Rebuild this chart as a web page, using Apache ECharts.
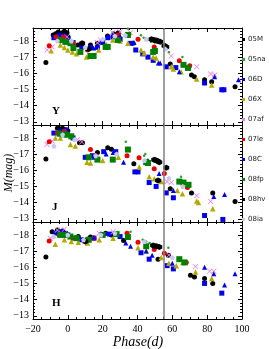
<!DOCTYPE html>
<html><head><meta charset="utf-8">
<script src="https://cdn.jsdelivr.net/npm/echarts@6/dist/echarts.min.js"></script>
<style>html,body{margin:0;padding:0;background:#fff}#c{width:269px;height:349px}</style>
</head><body><div id="c"></div>
<script>
// ---- data: [phase (d), absolute magnitude] ----
const names = ['05M','05na','06D','06X','07af','07le','08C','08fp','08hv','08ia'];
const xTicks = [-20, 0, 20, 40, 60, 80, 100];
const yTicks = [-18, -17, -16, -15, -14, -13];
const phaseLine = 55;

const Y_05M = [[-12.6,-16.66],[-8.4,-18.37],[-7,-18.45],[-5.5,-18.55],[-3.2,-18.5],[-2,-18.6],[-0.5,-18.5],[0.2,-18.25],[5.8,-17.75],[13,-17.75],[17,-17.85],[22.8,-18.3],[26.4,-18.45],[29,-18.5],[37.4,-17.86],[58.8,-16.58],[71,-15.9],[72.7,-15.78],[78.5,-15.6],[82.6,-15.47],[96,-15.16]];
const Y_05na = [[34.5,-18.75],[42,-18.35],[43.5,-18.2],[45,-18.15],[47.8,-17.95],[50,-17.9],[58,-17.3],[65.8,-17.0]];
const Y_06D = [[-8,-18.2],[-5,-18.35],[-2,-18.3],[0,-18.1],[3,-17.9],[8,-17.6],[13,-17.6],[17,-17.6],[20,-17.9],[23,-18.2],[26,-18.25],[30,-18.1],[36,-17.85],[39,-17.44],[43,-17.2],[46,-17.0],[49,-16.8],[56.5,-16.4],[62,-16.35],[78.5,-15.4],[88.4,-14.98],[89.6,-14.98]];
const Y_06X = [[-9.6,-17.4],[-4.3,-17.75],[-2,-17.6],[0,-17.44],[2.6,-17.32],[5,-17.2],[10.7,-17.0],[12,-17.05],[17.7,-17.44],[22,-17.8],[25.8,-18.06],[30,-18.0],[34.5,-17.86],[42,-17.44],[43.8,-17.26],[49,-17.0],[50.7,-16.95],[59.4,-16.4],[60.6,-16.27],[65,-16.1],[74,-15.65],[82.6,-15.28]];
const Y_07af = [[-11.9,-17.44],[-9,-17.63],[-4,-18.1],[-0.5,-18.25],[17,-17.88],[18.8,-18.06],[25.8,-18.5],[30,-18.55],[36,-18.5],[59.4,-17.07],[74,-16.4],[82,-15.96],[84.3,-15.9]];
const Y_07le = [[-10.7,-17.7],[-6.7,-18.25],[-2.6,-18.25],[3,-17.86],[11.3,-17.44],[28.7,-18.37],[35,-18.4],[40.3,-18.1],[49.6,-17.63],[64,-16.77],[70,-16.46]];
const Y_08C = [[14.8,-17.57],[20,-18.0],[25.8,-18.37],[30,-18.3],[38,-17.9],[52,-16.64],[53,-16.64],[64,-16.1],[84.3,-15.78],[98,-15.6]];
const Y_08fp = [[-4.3,-18.06],[-1.4,-17.94],[1.5,-17.86],[3.2,-17.56],[7.2,-17.32],[13,-17.07],[14.8,-17.07],[21.7,-17.63],[22.9,-17.63],[28.7,-18.06],[34.5,-18.37],[49,-17.32],[50,-17.38],[66.4,-16.52],[69,-16.33]];
const Y_08hv = [[8.2,-17.86],[11.9,-17.5],[48,-18.1],[49,-18.08],[50,-18.05],[51,-18.02],[52,-17.98],[53,-17.95],[55.5,-17.7],[56.5,-17.63]];
const Y_08ia = [[-6,-18.0],[2,-18.0],[10,-17.6],[20,-18.1],[27,-18.3],[33,-18.35],[45,-18.1],[56,-17.5]];

const J_05M = [[-12.6,-16.7],[-6,-18.6],[-4.5,-18.55],[-3,-18.6],[-1.5,-18.5],[0,-18.45],[6.7,-17.7],[8.4,-17.7],[17,-17.1],[22.9,-17.4],[25,-17.3],[37.9,-16.4],[58.8,-14.86],[71,-14.6],[83.2,-14.6],[96,-14.07]];
const J_05na = [[33.3,-17.77],[43.8,-16.9],[44.5,-17.0],[65,-15.6]];
const J_06D = [[-8,-18.3],[-4,-18.4],[-1,-18.5],[3,-18.0],[10,-16.8],[14,-16.9],[20.6,-17.15],[27.5,-17.15],[38.5,-15.9],[40.3,-15.9],[46.7,-15.24],[50.7,-15.0],[56.5,-14.6],[60.6,-14.3],[78.5,-13.2],[89,-12.96]];
const J_06X = [[-7.2,-18.0],[-4.3,-18.0],[1.5,-17.6],[4.3,-17.5],[11,-16.5],[13,-16.45],[20,-16.6],[29,-16.8],[41,-16.2],[46.7,-15.6],[49.6,-15.47],[53.6,-15.3],[62.9,-14.75],[65.8,-14.55],[74,-14.1],[75,-14.0],[83.2,-13.62]];
const J_07af = [[-12,-17.6],[-9,-17.8],[5.5,-17.9],[8,-17.75],[45,-16.5],[57,-15.3],[59.4,-15.24],[74,-14.43],[82,-14.07]];
const J_07le = [[-10.7,-17.77],[-6,-18.3],[-2,-18.4],[13,-17.28],[16,-16.9],[34,-16.9],[40.9,-16.78],[49.6,-16.1],[55.4,-15.8],[68.7,-14.94]];
const J_08C = [[15,-16.8],[22,-17.0],[26,-17.1],[32,-16.5],[46,-16.6],[52.4,-15.8],[60.6,-14.75],[83.8,-14.37],[90,-14.5]];
const J_08fp = [[-4.7,-18.26],[-2.5,-18.22],[-0.5,-18.2],[2,-18.1],[12,-16.8],[17,-16.66],[25.8,-16.66],[34.5,-17.28],[45,-16.5],[46,-16.45],[64,-15.3],[66.4,-15.24],[69.3,-15.1]];
const J_08hv = [[49.6,-16.65],[50.5,-16.62],[51.5,-16.58],[52.5,-16.5],[56.5,-16.16],[51.8,-15.36]];
const J_08ia = [[-8,-17.5],[-3,-18.2],[4,-17.9],[16,-16.9],[28,-17.0],[44,-16.6],[58,-15.5],[66,-15.0]];

const H_05M = [[-12.6,-16.64],[-9,-18.2],[-6,-18.3],[-3,-18.25],[-1,-18.1],[6,-17.9],[11.3,-17.74],[13,-17.87],[21.7,-18.1],[25,-18.0],[32,-17.65],[51.8,-16.5],[57.7,-16.75],[70.4,-15.5],[72.7,-15.4],[78.5,-15.3],[83.2,-15.0]];
const H_05na = [[36,-18.2],[43,-17.7],[45,-17.6],[47,-17.5],[57.7,-17.2]];
const H_06D = [[-7,-18.1],[-3,-18.2],[0,-18.0],[8,-17.7],[15,-17.8],[24,-18.05],[30,-17.9],[42,-16.9],[46.7,-16.5],[57,-16.1],[60.6,-15.9],[78.5,-15.0],[88.4,-14.4]];
const H_06X = [[-7.2,-17.43],[-2,-17.7],[2,-17.6],[6,-17.55],[11.3,-17.5],[18,-17.7],[26,-17.8],[40.3,-17.2],[45,-17.0],[53.6,-16.6],[58,-16.25],[62.3,-16.1],[66,-16.3],[73.3,-15.7],[82.6,-15.3]];
const H_07af = [[-10,-17.8],[-6,-18.3],[-2,-18.35],[18,-18.1],[26,-18.2],[58,-16.75],[73.3,-16.05],[81.4,-15.75],[83.8,-15.75]];
const H_07le = [[-10.7,-17.63],[-5,-18.0],[3,-17.8],[15,-17.8],[34,-18.1],[40.3,-17.55],[49.6,-17.1],[55.4,-16.87],[68,-16.3]];
const H_08C = [[15,-17.85],[22,-18.1],[33.3,-17.5],[36,-17.3],[45,-17.0],[48.4,-16.75],[60,-16.25],[78.5,-16.0],[83.8,-15.6],[90,-14.9],[96,-15.6]];
const H_08fp = [[-4.3,-18.0],[-2,-18.0],[1.5,-17.9],[5,-17.8],[12,-17.7],[20,-18.0],[28,-18.05],[34.5,-17.87],[45,-17.3],[64,-16.5],[67,-16.3]];
const H_08hv = [[10,-17.6],[49,-17.35],[50,-17.3],[51,-17.3],[52.5,-17.25]];
const H_08ia = [[-8,-17.9],[0,-18.0],[9,-17.7],[19,-18.0],[27,-18.1],[44,-17.6],[60,-16.6]];

const bandNames = ['Y','J','H'];
const bandData = [
  [Y_05M,Y_05na,Y_06D,Y_06X,Y_07af,Y_07le,Y_08C,Y_08fp,Y_08hv,Y_08ia],
  [J_05M,J_05na,J_06D,J_06X,J_07af,J_07le,J_08C,J_08fp,J_08hv,J_08ia],
  [H_05M,H_05na,H_06D,H_06X,H_07af,H_07le,H_08C,H_08fp,H_08hv,H_08ia]
];

// ---- styles ----
const X_PATH = 'path://M0,1L1,0L5,4L9,0L10,1L6,5L10,9L9,10L5,6L1,10L0,9L4,5Z';
const HEX_PATH = 'path://M5,0L9.33,2.5L9.33,7.5L5,10L0.67,7.5L0.67,2.5Z';
const PENT_PATH = 'path://M5,0L10,3.8L8.1,10L1.9,10L0,3.8Z';
const styles = [
  {color:'#000000', symbol:'circle', size:5},
  {color:'#2ca02c', symbol:'circle', size:2.5},
  {color:'#0000ee', symbol:'rect', size:5},
  {color:'#b3aa00', symbol:'triangle', size:5.5},
  {color:'#ee82ee', symbol:X_PATH, size:5.5},
  {color:'#ee0000', symbol:'circle', size:5},
  {color:'#0000ee', symbol:'triangle', size:5},
  {color:'#008000', symbol:'rect', size:6},
  {color:'#000000', symbol:HEX_PATH, size:6},
  {color:'#c8c8f0', symbol:PENT_PATH, size:5}
];

const L = 33, R = 242, H = 97, tops = [28, 125, 222];
const serif = 'Liberation Serif';
const fmtY = v => Math.abs(v - Math.round(v)) < 1e-6 && yTicks.indexOf(Math.round(v)) >= 0 ? '\u2212' + Math.abs(Math.round(v)) : '';
const fmtX = v => xTicks.indexOf(v) >= 0 ? (v < 0 ? '\u2212' + Math.abs(v) : String(v)) : '';

const grid = [], xAxis = [], yAxis = [], series = [];
tops.forEach((t, i) => {
  grid.push({left: L, width: R - L, top: t, height: H, show: false});
  const axBase = {gridIndex: i, type: 'value', min: -20, max: 100, interval: 20,
    axisLine: {show: true, onZero: false, lineStyle: {color: '#000', width: 1}},
    axisTick: {show: true, inside: true, length: 4, lineStyle: {color: '#000'}},
    minorTick: {show: true, splitNumber: 4, length: 2, lineStyle: {color: '#000'}},
    splitLine: {show: false}};
  xAxis.push(Object.assign({}, axBase, {position: 'bottom',
    axisLabel: {show: i === 2, formatter: fmtX, color: '#000', fontFamily: serif, fontSize: 10, margin: 5}}));
  xAxis.push(Object.assign({}, axBase, {position: 'top', axisLabel: {show: false}}));
  const yBase = {gridIndex: i, type: 'value', inverse: true, min: -18.8, max: -12.8,
    axisLine: {show: true, onZero: false, lineStyle: {color: '#000', width: 1}},
    axisTick: {show: true, inside: true, length: 4, lineStyle: {color: '#000'}},
    minorTick: {show: true, splitNumber: 5, length: 2, lineStyle: {color: '#000'}},
    splitLine: {show: false}};
  yAxis.push(Object.assign({}, yBase, {position: 'left',
    axisLabel: {show: true, formatter: fmtY, showMinLabel: false, showMaxLabel: false, color: '#000', fontFamily: serif, fontSize: 10, margin: 4}}));
  yAxis.push(Object.assign({}, yBase, {position: 'right', axisLabel: {show: false}}));

  bandData[i].forEach((d, k) => {
    const s = {
      name: names[k], type: 'scatter', xAxisIndex: 2 * i, yAxisIndex: 2 * i,
      data: d, symbol: styles[k].symbol, symbolSize: styles[k].size,
      itemStyle: {color: styles[k].color, opacity: 1}, z: 3, silent: true
    };
    if (k === 0) {
      s.markLine = {silent: true, symbol: 'none', animation: false, label: {show: false},
        lineStyle: {color: '#808080', width: 1.5, type: 'solid'}, data: [{xAxis: phaseLine}]};
    }
    series.push(s);
  });
});

const chart = echarts.init(document.getElementById('c'), null, {renderer: 'canvas'});
chart.setOption({
  animation: false,
  backgroundColor: '#fff',
  grid, xAxis, yAxis, series,
  legend: {
    data: names.map(n => ({name: n, icon: 'rect'})), orient: 'vertical', left: 242, top: 36, icon: 'rect',
    itemWidth: 3, itemHeight: 3, itemGap: 13, padding: 0,
    textStyle: {fontSize: 7, color: '#222', fontFamily: 'DejaVu Sans', padding: [0, 0, 0, -2]},
    selectedMode: false
  },
  graphic: [
    {type: 'text', left: 52, top: 106, style: {text: 'Y', font: 'bold 11px "Liberation Serif"', fill: '#000'}},
    {type: 'text', left: 52, top: 202, style: {text: 'J', font: 'bold 11px "Liberation Serif"', fill: '#000'}},
    {type: 'text', left: 52, top: 298, style: {text: 'H', font: 'bold 11px "Liberation Serif"', fill: '#000'}},
    {type: 'text', x: 9, y: 173, rotation: Math.PI / 2,
      style: {text: 'M(mag)', font: 'italic 12px "Liberation Serif"', fill: '#000', align: 'center', verticalAlign: 'middle'}},
    {type: 'text', x: 138, y: 342,
      style: {text: 'Phase(d)', font: 'italic 14px "Liberation Serif"', fill: '#000', align: 'center', verticalAlign: 'middle'}}
  ]
});
</script>
</body></html>
